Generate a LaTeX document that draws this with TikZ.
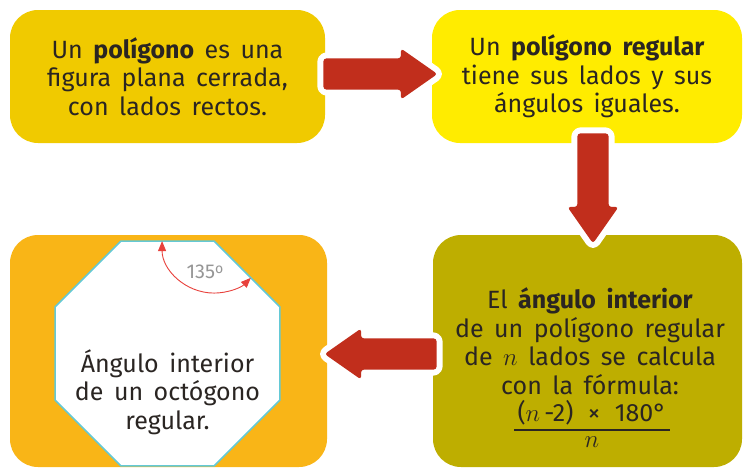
\documentclass[tikz,border=0pt]{standalone}
\usepackage{fontspec}
\setmainfont{Fira Sans}
\usetikzlibrary{shapes.arrows,arrows.meta,calc}

\definecolor{oro}{RGB}{240,202,0}
\definecolor{amarillo}{RGB}{255,236,0}
\definecolor{naranja}{RGB}{249,181,23}
\definecolor{oliva}{RGB}{190,174,0}
\definecolor{rojo}{RGB}{193,46,28}
\definecolor{rojoarco}{RGB}{232,65,60}
\definecolor{cian}{RGB}{99,201,214}
\definecolor{gris}{RGB}{150,150,150}
\definecolor{tinta}{RGB}{42,37,34}

\newcommand{\letra}{\fontsize{25}{28.5}\selectfont\spaceskip=0.42em\relax}

\tikzset{
  caja/.style={rounded corners=28pt, inner sep=0pt, align=center, text=tinta, font=\letra},
  texto/.style={align=center, text=tinta, inner sep=0pt, font=\letra},
  flecha/.style={single arrow, fill=rojo, inner sep=11pt, minimum width=51pt,
    single arrow tip angle=70, rounded corners=3pt,
    preaction={draw=white, line width=12pt, line join=round}},
  octo/.style={draw=cian, fill=white, line width=1.6pt},
  angulo/.style={draw=rojoarco, line width=0.9pt,
    {Triangle[length=10pt,width=8pt]}-{Triangle[length=10pt,width=8pt]}}
}

\begin{document}
\begin{tikzpicture}[x=1pt, y=-1pt]
    \useasboundingbox (0,0) rectangle (744,467);
    \fill[white] (0,0) rectangle (744,467);
    \clip (0,0) rectangle (744,467);

    % Boxes
    \node[caja, fill=oro, minimum width=315pt, minimum height=133pt] (c1) at (167.5,76.5)
        {Un \textbf{polígono} es una\\figura plana cerrada,\\con lados rectos.};
    \node[caja, fill=amarillo, minimum width=310pt, minimum height=133pt] (c2) at (587,76.5)
        {Un \textbf{polígono regular}\\tiene sus lados y sus\\ángulos iguales.};
    \node[caja, fill=naranja, minimum width=317pt, minimum height=232pt] (c3) at (168.5,351) {};
    \node[caja, fill=oliva, minimum width=309pt, minimum height=232pt] (c4) at (587.5,351) {};

    % Octagon inside the orange box
    \coordinate (o) at (167.5,353.5);
    \draw[octo] (o) +(22.5:121.7) \foreach \a in {67.5,112.5,...,337.5} { -- +(\a:121.7) } -- cycle;
    \node[texto] (t3) at (167.5,392) {Ángulo interior\\de un octógono\\regular.};

    % Interior angle of the octagon
    \coordinate (v) at ($(o)+(-67.5:121.7)$);
    \draw[angulo] ($(v)+(180:52)$) arc[start angle=180, end angle=45, radius=52];
    \node[text=gris, font=\fontsize{20}{20}\selectfont] (ang) at (205,272)
        {135{\fontsize{14}{14}\selectfont\raisebox{5.5pt}{o}}};

    % Formula box
    \node[texto] (t4) at (590,341)
        {El \textbf{ángulo interior}\\de un polígono regular\\de $n$ lados se calcula\\con la fórmula:};
    \node[texto] (num) at (592,413) {($n$\,-2)\hspace{4pt} × \hspace{4pt}180°};
    \draw[line width=2pt, tinta] ([xshift=-3pt, yshift=-4pt]num.south west) -- ([xshift=3pt, yshift=-4pt]num.south east);
    \node[texto] (den) at (592,442) {$n$};

    % Arrows between the boxes
    \node[flecha, minimum height=114pt, anchor=tail] (f1) at ($(c1.east)+(-2,-2.5)$) {};
    \node[flecha, minimum height=110pt, rotate=-90, anchor=tail] (f2) at ($(c2.south)+(6,-10)$) {};
    \node[flecha, minimum height=112pt, rotate=180, anchor=tail] (f3) at ($(c4.west)+(4,3)$) {};
\end{tikzpicture}
\end{document}
